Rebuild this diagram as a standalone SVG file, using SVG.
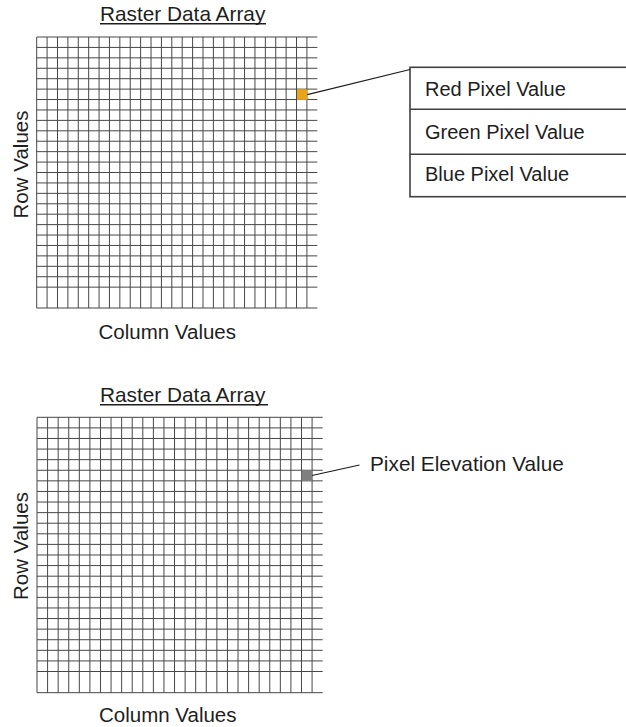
<svg xmlns="http://www.w3.org/2000/svg" width="626" height="727" viewBox="0 0 626 727">
<style>
text{font-family:"Liberation Sans",Arial,sans-serif;fill:#1e1e1e;}
.lbl{font-size:20.5px;}
.ttl{font-size:20.8px;}
.cell{font-size:20px;}
.grid{fill:none;stroke:#474747;stroke-width:1;}
.ul{stroke:#1e1e1e;stroke-width:1.4;}
.conn{stroke:#1a1a1a;stroke-width:1.2;fill:none;}
.tbl{fill:#fff;stroke:#404040;stroke-width:1.6;}
</style>
<rect width="626" height="727" fill="#fff"/>
<g id="raster-rgb">
<text class="ttl" x="100" y="20.7">Raster Data Array</text>
<line class="ul" x1="100" y1="23.8" x2="266" y2="23.8"/>
<path class="grid" d="M36.7 37v271m10.393-271v271m10.393-271v271m10.393-271v271m10.393-271v271m10.393-271v271m10.393-271v271m10.393-271v271m10.393-271v271m10.393-271v271m10.393-271v271m10.393-271v271m10.393-271v271m10.393-271v271m10.393-271v271m10.393-271v271m10.393-271v271m10.393-271v271m10.393-271v271m10.393-271v271m10.393-271v271m10.393-271v271m10.393-271v271m10.393-271v271m10.393-271v271m10.393-271v271m10.393-271v271"/>
<path class="grid" d="M36.7 37h280.6m-280.6 10.423h280.6m-280.6 10.423h280.6m-280.6 10.423h280.6m-280.6 10.423h280.6m-280.6 10.423h280.6m-280.6 10.423h280.6m-280.6 10.423h280.6m-280.6 10.423h280.6m-280.6 10.423h280.6m-280.6 10.423h280.6m-280.6 10.423h280.6m-280.6 10.423h280.6m-280.6 10.423h280.6m-280.6 10.423h280.6m-280.6 10.423h280.6m-280.6 10.423h280.6m-280.6 10.423h280.6m-280.6 10.423h280.6m-280.6 10.423h280.6m-280.6 10.423h280.6m-280.6 10.423h280.6m-280.6 10.423h280.6m-280.6 10.423h280.6m-280.6 10.423h280.6M36.7 308h280.6"/>
<rect id="rgb-pixel" x="297" y="89.5" width="10.4" height="10.4" fill="#E8A317"/>
<text class="lbl" transform="translate(28,164.5) rotate(-90)" text-anchor="middle">Row Values</text>
<text class="lbl" x="98.5" y="339.3">Column Values</text>
</g>
<g id="rgb-table">
<rect class="tbl" x="410" y="67.3" width="230" height="129.4"/>
<line class="tbl" x1="410" y1="109.3" x2="630" y2="109.3"/>
<line class="tbl" x1="410" y1="154.3" x2="630" y2="154.3"/>
<text class="cell" x="425" y="95.5">Red Pixel Value</text>
<text class="cell" x="425" y="139">Green Pixel Value</text>
<text class="cell" x="425" y="180.5">Blue Pixel Value</text>
</g>
<g id="raster-elev">
<text class="ttl" x="100" y="401.7">Raster Data Array</text>
<line class="ul" x1="100" y1="404.8" x2="268" y2="404.8"/>
<path class="grid" d="M37 417.3v275.4m10.58-275.4v275.4m10.58-275.4v275.4m10.58-275.4v275.4m10.58-275.4v275.4m10.58-275.4v275.4m10.58-275.4v275.4m10.58-275.4v275.4m10.58-275.4v275.4m10.58-275.4v275.4m10.58-275.4v275.4m10.58-275.4v275.4m10.58-275.4v275.4m10.58-275.4v275.4m10.58-275.4v275.4m10.58-275.4v275.4m10.58-275.4v275.4m10.58-275.4v275.4m10.58-275.4v275.4m10.58-275.4v275.4m10.58-275.4v275.4m10.58-275.4v275.4m10.58-275.4v275.4m10.58-275.4v275.4m10.58-275.4v275.4m10.58-275.4v275.4m10.58-275.4v275.4"/>
<path class="grid" d="M37 417.3h285.7m-285.7 10.592h285.7m-285.7 10.592h285.7m-285.7 10.592h285.7m-285.7 10.592h285.7m-285.7 10.592h285.7m-285.7 10.592h285.7m-285.7 10.592h285.7m-285.7 10.592h285.7m-285.7 10.592h285.7m-285.7 10.592h285.7m-285.7 10.592h285.7m-285.7 10.592h285.7m-285.7 10.592h285.7m-285.7 10.592h285.7m-285.7 10.592h285.7m-285.7 10.592h285.7m-285.7 10.592h285.7m-285.7 10.592h285.7m-285.7 10.592h285.7m-285.7 10.592h285.7m-285.7 10.592h285.7m-285.7 10.592h285.7m-285.7 10.592h285.7m-285.7 10.592h285.7M37 692.7h285.7"/>
<rect id="elev-pixel" x="301.5" y="470.3" width="10.6" height="10.6" fill="#7f7f7f"/>
<text class="lbl" transform="translate(28,546) rotate(-90)" text-anchor="middle">Row Values</text>
<text class="lbl" x="99" y="722.3">Column Values</text>
</g>
<g id="elev-label">
<text class="ttl" x="370" y="470.7">Pixel Elevation Value</text>
</g>
<g id="connectors">
<line class="conn" x1="307.3" y1="94.7" x2="410" y2="69.5"/>
<line class="conn" x1="312" y1="475.5" x2="359.5" y2="465"/>
</g>
</svg>
